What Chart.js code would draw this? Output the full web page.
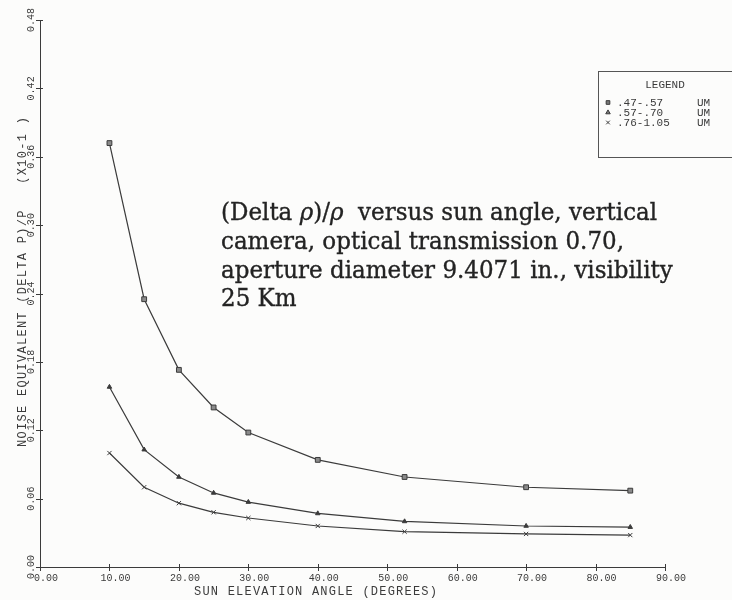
<!DOCTYPE html>
<html>
<head>
<meta charset="utf-8">
<script src="https://cdn.jsdelivr.net/npm/chart.js@4/dist/chart.umd.min.js"></script>
<style>
  html, body { margin: 0; padding: 0; background: #fcfcfb; }
  #wrap { width: 732px; height: 600px; }
</style>
</head>
<body>
<div id="wrap"><canvas id="c" width="732" height="600"></canvas></div>
<script>
// Sun elevation angles (degrees)
const sunAngles = [10, 15, 20, 25, 30, 40, 52.5, 70, 85];

// Noise equivalent (delta p)/p, x10^-1, per spectral band
const band047to057 = [0.372, 0.235, 0.173, 0.140, 0.118, 0.094, 0.079, 0.070, 0.067];
const band057to070 = [0.158, 0.103, 0.079, 0.065, 0.057, 0.047, 0.040, 0.036, 0.035];
const band076to105 = [0.100, 0.070, 0.056, 0.048, 0.043, 0.036, 0.031, 0.029, 0.028];

const bandLabels = ['.47-.57', '.57-.70', '.76-1.05'];
const bandUnit = 'UM';

const xAxisTitle = 'SUN ELEVATION ANGLE (DEGREES)';
const yAxisTitle = 'NOISE EQUIVALENT (DELTA P)/P   (X10-1 )';
const legendTitle = 'LEGEND';

const INK = '#3b3b3b';
const mono = (px) => px + 'px "Liberation Mono", "DejaVu Sans Mono", monospace';
const serif = (px, italic) => (italic ? 'italic ' : '') + px + 'px "DejaVu Serif", "Liberation Serif", serif';

function series(values) {
  return sunAngles.map((a, i) => ({ x: a, y: values[i] }));
}

// draws text spread to a given length along its baseline
function spacedText(ctx, text, x, y, length) {
  ctx.letterSpacing = '0px';
  const w = ctx.measureText(text).width;
  const ls = (length - w) / (text.length - 1);
  ctx.letterSpacing = ls.toFixed(2) + 'px';
  ctx.fillText(text, x, y);
  ctx.letterSpacing = '0px';
}

const decorations = {
  id: 'decorations',
  afterDraw(chart) {
    const { ctx, chartArea: a, scales: { x, y } } = chart;
    ctx.save();
    ctx.strokeStyle = INK;
    ctx.fillStyle = INK;
    ctx.lineWidth = 1;

    // tick crosses on both axes
    ctx.beginPath();
    x.ticks.forEach(t => {
      const px = Math.round(x.getPixelForValue(t.value)) + 0.5;
      ctx.moveTo(px, a.bottom - 3); ctx.lineTo(px, a.bottom + 4);
    });
    y.ticks.forEach(t => {
      const py = Math.round(y.getPixelForValue(t.value)) + 0.5;
      ctx.moveTo(a.left - 4, py); ctx.lineTo(a.left + 3, py);
    });
    ctx.stroke();

    // x tick labels
    ctx.font = mono(10);
    ctx.textAlign = 'center';
    ctx.textBaseline = 'alphabetic';
    x.ticks.forEach(t => {
      const px = x.getPixelForValue(t.value);
      ctx.fillText(t.value.toFixed(2), px + 6, a.bottom + 14);
    });

    // y tick labels, rotated
    y.ticks.forEach(t => {
      const py = y.getPixelForValue(t.value);
      ctx.save();
      ctx.translate(a.left - 6, py);
      ctx.rotate(-Math.PI / 2);
      ctx.textAlign = 'center';
      ctx.textBaseline = 'alphabetic';
      ctx.fillText(t.value.toFixed(2), 0, 0);
      ctx.restore();
    });

    // axis titles
    ctx.font = mono(12);
    ctx.textAlign = 'left';
    spacedText(ctx, xAxisTitle, 194, 595, 243);
    ctx.save();
    ctx.translate(26, 447);
    ctx.rotate(-Math.PI / 2);
    spacedText(ctx, yAxisTitle, 0, 0, 330);
    ctx.restore();

    // legend box
    ctx.strokeStyle = '#555';
    ctx.strokeRect(598.5, 71.5, 140, 86);
    ctx.font = mono(11);
    ctx.textAlign = 'center';
    ctx.fillText(legendTitle, 665, 88);
    ctx.textAlign = 'left';
    chart.data.datasets.forEach((ds, i) => {
      const base = 106 + i * 10;
      ctx.fillText(ds.label, 617, base);
      ctx.fillText(bandUnit, 697, base);
      ctx.strokeStyle = INK; ctx.fillStyle = '#777';
      Chart.helpers.drawPoint(ctx, {
        pointStyle: ds.pointStyle, radius: 2.6, borderWidth: 1
      }, 608, base - 3.5);
      ctx.fillStyle = INK;
    });

    // annotation block
    ctx.fillStyle = '#232323';
    ctx.strokeStyle = '#232323';
    ctx.lineWidth = 0.35;
    const lines = [
      null,
      'camera, optical transmission 0.70,',
      'aperture diameter 9.4071 in., visibility',
      '25 Km'
    ];
    ctx.font = serif(100);
    const fs = Math.round(1000 * 451 / ctx.measureText(lines[2]).width) / 10;
    const left = 221, base0 = 220, lh = 28.8, vs = 1.08;
    const put = (s, px, py) => {
      ctx.save();
      ctx.translate(px, py);
      ctx.scale(1, vs);
      ctx.fillText(s, 0, 0);
      ctx.strokeText(s, 0, 0);
      ctx.restore();
    };
    // first line, with italic rho
    const parts = [['(Delta ', false], ['\u03C1', true], [')/', false], ['\u03C1', true], ['  versus sun angle, vertical', false]];
    let cx = left;
    parts.forEach(([s, it]) => {
      ctx.font = serif(fs, it);
      put(s, cx, base0);
      cx += ctx.measureText(s).width;
    });
    ctx.font = serif(fs);
    for (let i = 1; i < lines.length; i++) put(lines[i], left, base0 + i * lh);

    ctx.restore();
  }
};

const common = {
  borderColor: INK,
  backgroundColor: '#6a6a6a',
  pointBorderColor: INK,
  borderWidth: 1.2,
  pointBorderWidth: 1,
  pointHoverRadius: 3,
  tension: 0,
  fill: false
};

new Chart(document.getElementById('c'), {
  type: 'line',
  data: {
    datasets: [
      Object.assign({}, common, { label: bandLabels[0], data: series(band047to057), pointStyle: 'rect', pointRadius: 3.4, pointBackgroundColor: '#8a8a8a' }),
      Object.assign({}, common, { label: bandLabels[1], data: series(band057to070), pointStyle: 'triangle', pointRadius: 2.6, pointBackgroundColor: INK }),
      Object.assign({}, common, { label: bandLabels[2], data: series(band076to105), pointStyle: 'crossRot', pointRadius: 3 })
    ]
  },
  options: {
    responsive: false,
    animation: false,
    events: [],
    layout: { padding: { left: 40, right: 67, top: 20, bottom: 33 } },
    plugins: { legend: { display: false }, tooltip: { enabled: false } },
    scales: {
      x: {
        type: 'linear', min: 0, max: 90,
        ticks: { display: false, stepSize: 10 },
        grid: { display: false, drawTicks: false },
        border: { display: true, color: INK, width: 1 }
      },
      y: {
        type: 'linear', min: 0, max: 0.48,
        ticks: { display: false, stepSize: 0.06 },
        grid: { display: false, drawTicks: false },
        border: { display: true, color: INK, width: 1 }
      }
    }
  },
  plugins: [decorations]
});
</script>
</body>
</html>
